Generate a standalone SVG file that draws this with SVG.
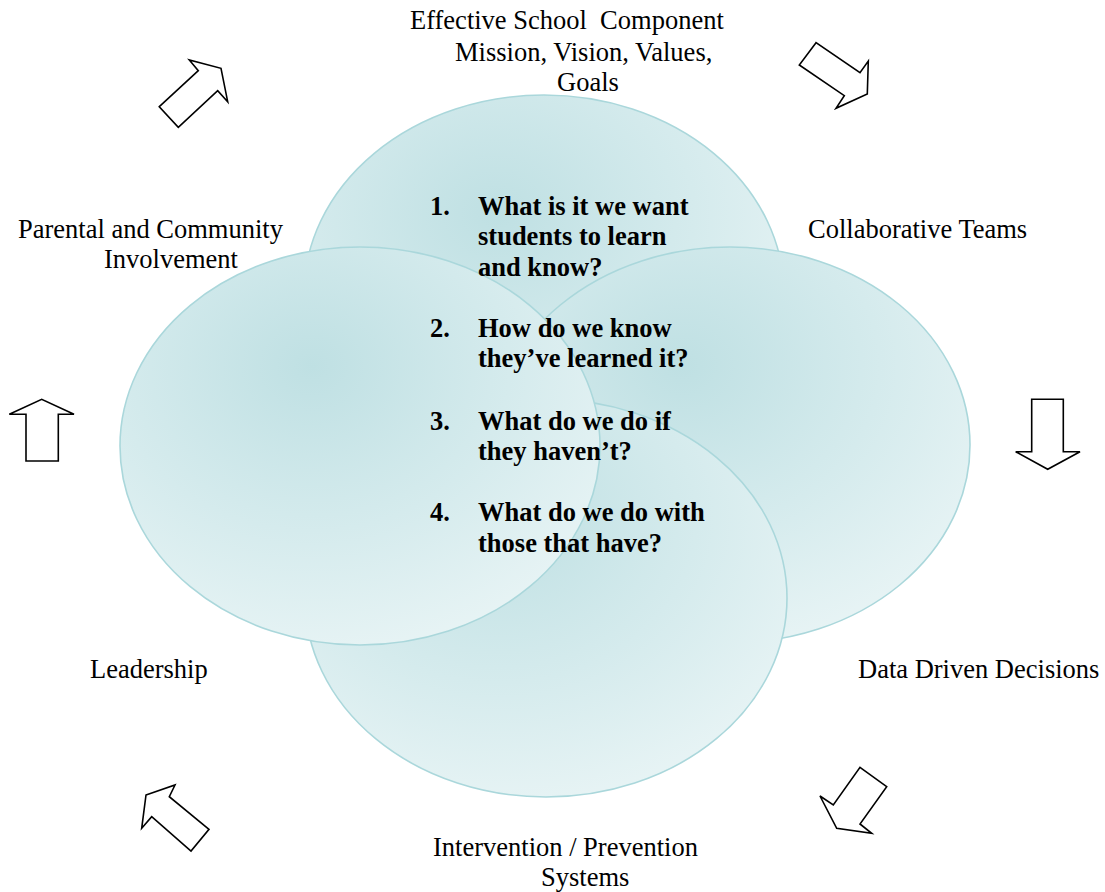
<svg xmlns="http://www.w3.org/2000/svg" width="1105" height="892" viewBox="0 0 1105 892">
<style>
.lbl{font-family:"Liberation Serif","Times New Roman",serif;font-size:26.5px;fill:#000;white-space:pre}
.q{font-family:"Liberation Serif","Times New Roman",serif;font-size:26.5px;font-weight:bold;fill:#000}
.circ{fill:url(#g);stroke:#aad7db;stroke-width:1.6}
.arr{fill:#fff;stroke:#000;stroke-width:1.6;stroke-linejoin:miter}
</style>
<defs>
<radialGradient id="g" cx="0.4" cy="0.3" r="0.75" fx="0.4" fy="0.3">
<stop offset="0" stop-color="#bfe0e3"/>
<stop offset="0.55" stop-color="#d5ebed"/>
<stop offset="1" stop-color="#e8f4f5"/>
</radialGradient>
</defs>
<rect width="1105" height="892" fill="#fff"/>
<g id="circles">
<ellipse id="c-top" class="circ" cx="544" cy="294" rx="240" ry="199"/>
<ellipse id="c-right" class="circ" cx="730" cy="445" rx="240" ry="198"/>
<ellipse id="c-bottom" class="circ" cx="546" cy="598" rx="241" ry="199"/>
<ellipse id="c-left" class="circ" cx="360" cy="446" rx="240" ry="199"/>
</g>
<g id="connectors">
<polygon class="arr" points="159.3,106.7 198.3,70.7 189.3,60 221,68.3 227.7,101.7 217.7,90.7 178.3,127.3"/>
<polygon class="arr" points="816,42.7 799.3,65 844.3,95.7 836,108.3 867.3,94 868.3,61 860,72.7"/>
<polygon class="arr" points="1031.7,399.3 1063.3,399.3 1063.3,451.7 1080,451.7 1047.7,469.3 1015.7,451.7 1031.7,451.7"/>
<polygon class="arr" points="860,767.3 886.7,786.7 860,824 871.7,833.3 836.7,828.3 820,796 833.3,805"/>
<polygon class="arr" points="146,795 175,785 169.3,796.7 209,829.3 191,851 151.7,816.7 141.7,828.3"/>
<polygon class="arr" points="26,461 26,414.3 9.3,414.3 41.7,399.3 74,414.3 58.3,414.3 58.3,461"/>
</g>
<g id="n-mission">
<text class="lbl" x="410" y="29" xml:space="preserve">Effective School  Component</text>
<text class="lbl" x="455" y="61">Mission, Vision, Values,</text>
<text class="lbl" x="557" y="91">Goals</text>
</g>
<g id="n-collab"><text class="lbl" x="808" y="238">Collaborative Teams</text></g>
<g id="n-data"><text class="lbl" x="858" y="678">Data Driven Decisions</text></g>
<g id="n-intervention">
<text class="lbl" x="433" y="856">Intervention / Prevention</text>
<text class="lbl" x="541" y="886">Systems</text>
</g>
<g id="n-leadership"><text class="lbl" x="90" y="678">Leadership</text></g>
<g id="n-parental">
<text class="lbl" x="18" y="238">Parental and Community</text>
<text class="lbl" x="104" y="268">Involvement</text>
</g>
<g id="n-questions">
<text class="q" x="430" y="215">1.</text>
<text class="q" x="478" y="215">What is it we want</text>
<text class="q" x="478" y="245">students to learn</text>
<text class="q" x="478" y="276">and know?</text>
<text class="q" x="430" y="337">2.</text>
<text class="q" x="478" y="337">How do we know</text>
<text class="q" x="478" y="367">they’ve learned it?</text>
<text class="q" x="430" y="430">3.</text>
<text class="q" x="478" y="430">What do we do if</text>
<text class="q" x="478" y="460">they haven’t?</text>
<text class="q" x="430" y="521">4.</text>
<text class="q" x="478" y="521">What do we do with</text>
<text class="q" x="478" y="552">those that have?</text>
</g>
</svg>
